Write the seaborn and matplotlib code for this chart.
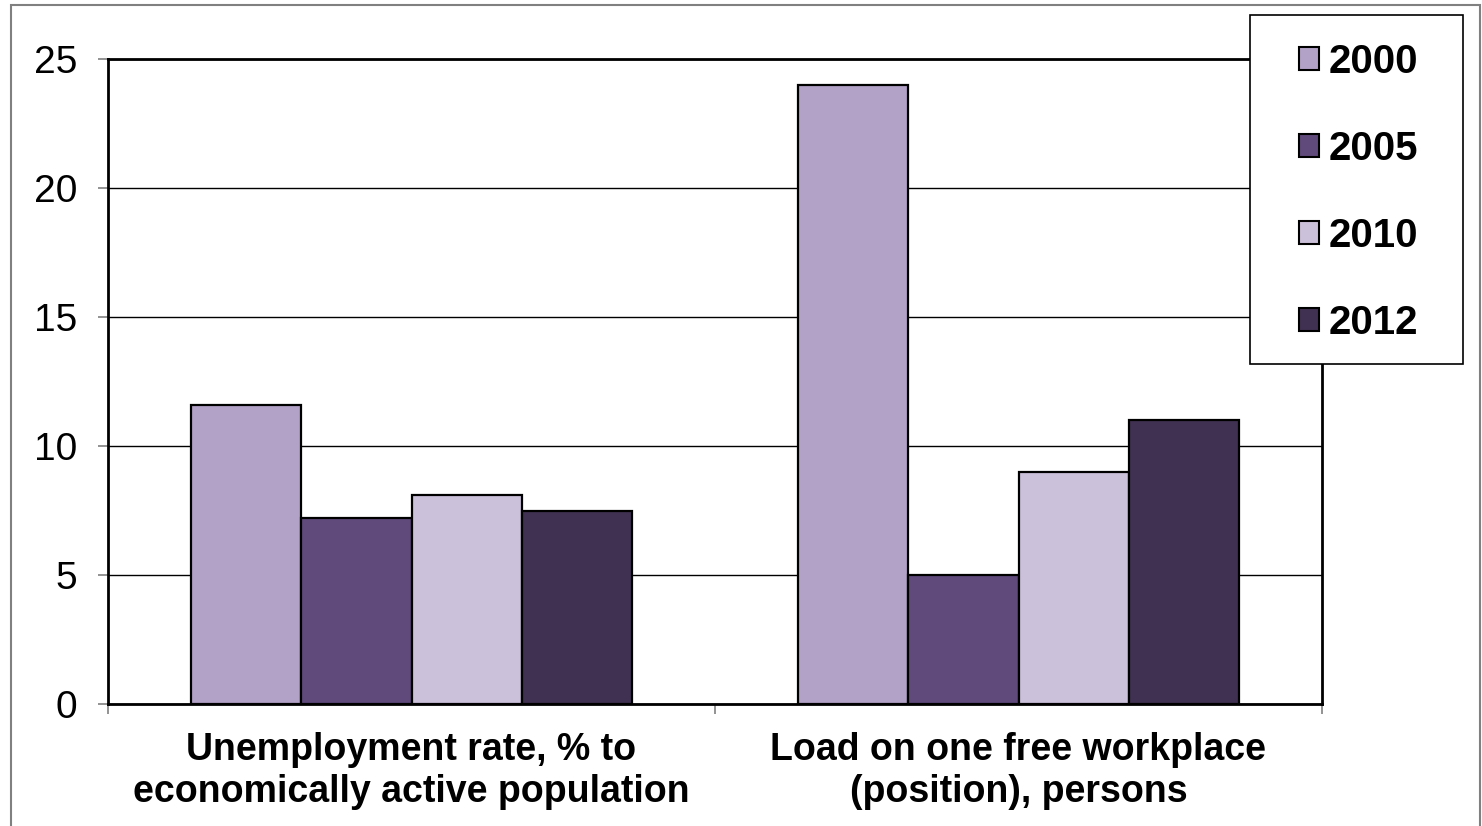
import matplotlib
matplotlib.use("Agg")
import matplotlib.pyplot as plt
import matplotlib.patches as mpatches
from matplotlib.ticker import FixedLocator
import seaborn as sns
import pandas as pd

categories = ["Unemployment rate, % to\neconomically active population",
              "Load on one free workplace\n(position), persons"]
years = ["2000", "2005", "2010", "2012"]
values_2000 = [11.6, 24.0]
values_2005 = [7.2, 5.0]
values_2010 = [8.1, 9.0]
values_2012 = [7.5, 11.0]
colors = ["#B3A2C7", "#604A7B", "#CCC1DA", "#403152"]
y_ticks = [0, 5, 10, 15, 20, 25]

rows = []
for yr, vals in zip(years, [values_2000, values_2005, values_2010, values_2012]):
    for c, v in zip(categories, vals):
        rows.append({"category": c, "year": yr, "value": v})
df = pd.DataFrame(rows)

sns.set_theme(style="white")
plt.rcParams["font.family"] = ["Liberation Sans", "DejaVu Sans"]
plt.rcParams["text.color"] = "black"
plt.rcParams["xtick.labelcolor"] = "black"
plt.rcParams["ytick.labelcolor"] = "black"

W, H = 1482, 826
fig = plt.figure(figsize=(W / 100, H / 100), dpi=100)
ax = fig.add_axes([108 / W, 1 - 704 / H, (1322 - 108) / W, (704 - 59) / H])

sns.barplot(data=df, x="category", y="value", hue="year", order=categories,
            hue_order=years, palette=colors, width=0.725, dodge=True,
            edgecolor="black", linewidth=1.6, saturation=1, ax=ax, legend=True)

ax.set_xlim(-0.5, 1.5)
ax.set_ylim(0, 25)
ax.set_yticks(y_ticks)
ax.set_yticklabels([str(t) for t in y_ticks], fontsize=28, color="black")
ax.yaxis.grid(True, color="black", linewidth=1.0)
ax.set_axisbelow(True)
ax.set_xlabel("")
ax.set_ylabel("")

ax.set_xticks([0, 1])
ax.set_xticklabels(categories, fontsize=27, fontweight="bold", linespacing=1.22,
                   color="black")
ax.tick_params(axis="x", which="major", length=0, pad=20)
ax.xaxis.set_minor_locator(FixedLocator([-0.5, 0.5, 1.5]))
ax.tick_params(axis="x", which="minor", length=7, width=1.2, color="#808080",
               direction="out", bottom=True)
ax.tick_params(axis="y", which="major", length=7, width=1.2, color="#808080",
               direction="out", left=True, pad=15)

for s in ax.spines.values():
    s.set_visible(True)
    s.set_color("black")
    s.set_linewidth(2.0)

# legend
leg = ax.get_legend()
handles = leg.legend_handles
leg.remove()

x0, x1, y0, y1 = 1250, 1463, 15, 364
frame = mpatches.Rectangle((x0 / W, 1 - y1 / H), (x1 - x0) / W, (y1 - y0) / H,
                           transform=fig.transFigure, facecolor="white",
                           edgecolor="black", linewidth=1.2, zorder=4)
fig.add_artist(frame)
lg = fig.legend(handles, years, loc="center",
                bbox_to_anchor=((x0 + x1) / 2 / W + 2 / W, 1 - (y0 + y1) / 2 / H - 3 / H),
                borderaxespad=0, frameon=False, prop={"weight": "bold", "size": 29},
                handlelength=0.5, handleheight=0.5, handletextpad=0.25,
                labelspacing=1.22, borderpad=0, labelcolor="black")
lg.set_zorder(5)
for p in lg.get_patches():
    p.set_edgecolor("black")
    p.set_linewidth(1.5)

# outer border
fig.add_artist(mpatches.Rectangle((11 / W, -0.05), (1480 - 11) / W, 1.05 - 5 / H,
                                  transform=fig.transFigure, fill=False,
                                  edgecolor="#808080", linewidth=1.5, zorder=6))

fig.savefig("out.png", dpi=100)
